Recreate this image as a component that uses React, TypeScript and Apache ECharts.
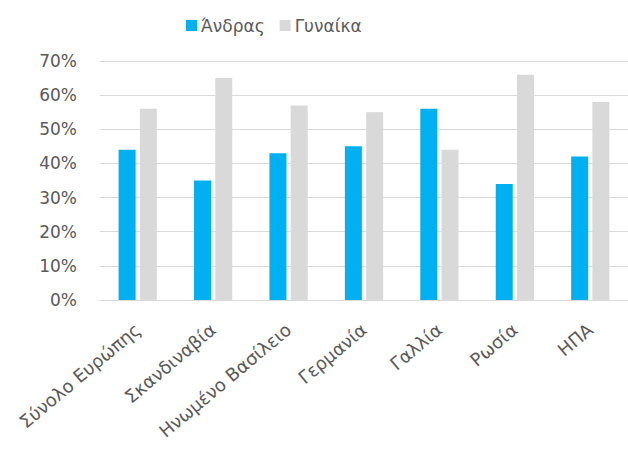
import React, { useEffect, useRef } from "react";
import * as echarts from "echarts";

const categories = ["Σύνολο Ευρώπης", "Σκανδιναβία", "Ηνωμένο Βασίλειο", "Γερμανία", "Γαλλία", "Ρωσία", "ΗΠΑ"];
const men = [44, 35, 43, 45, 56, 34, 42];
const women = [56, 65, 57, 55, 44, 66, 58];
const seriesNames = ["Άνδρας", "Γυναίκα"];

export default function App() {
  const ref = useRef<HTMLDivElement>(null);
  useEffect(() => {
    if (!ref.current) return;
    const chart = echarts.init(ref.current, null, { renderer: "svg" });
    const font = "'DejaVu Sans', 'Noto Sans', sans-serif";
    chart.setOption({
      animation: false,
      backgroundColor: "#ffffff",
      textStyle: { fontFamily: font },
      legend: {
        top: 12,
        left: 181,
        itemWidth: 11,
        itemHeight: 11,
        itemGap: 15,
        icon: "rect",
        textStyle: { fontSize: 17, color: "#595959", fontFamily: font, padding: [0, 0, 0, -1] },
        data: seriesNames,
      },
      grid: { left: 100, right: -7, top: 61, bottom: 149, containLabel: false },
      xAxis: {
        type: "category",
        data: categories,
        axisLine: { lineStyle: { color: "#D9D9D9", width: 1 } },
        axisTick: { show: false },
        axisLabel: {
          rotate: 40,
          interval: 0,
          fontSize: 18,
          color: "#595959",
          fontFamily: font,
          margin: 27,
        },
      },
      yAxis: {
        type: "value",
        min: 0,
        max: 70,
        interval: 10,
        axisLine: { show: false },
        axisTick: { show: false },
        splitLine: { lineStyle: { color: "#D9D9D9", width: 1 } },
        axisLabel: {
          formatter: "{value}%",
          fontSize: 17,
          color: "#595959",
          fontFamily: font,
          margin: 23,
        },
      },
      series: [
        {
          name: seriesNames[0],
          type: "bar",
          data: men,
          barWidth: 17,
          barGap: "25%",
          itemStyle: { color: "#00B0F0" },
        },
        {
          name: seriesNames[1],
          type: "bar",
          data: women,
          barWidth: 17,
          barGap: "25%",
          itemStyle: { color: "#D9D9D9" },
        },
      ],
    });
    return () => chart.dispose();
  }, []);
  return (
    <div
      ref={ref}
      style={{ position: "fixed", left: 0, top: 0, width: 628, height: 449 }}
    />
  );
}
